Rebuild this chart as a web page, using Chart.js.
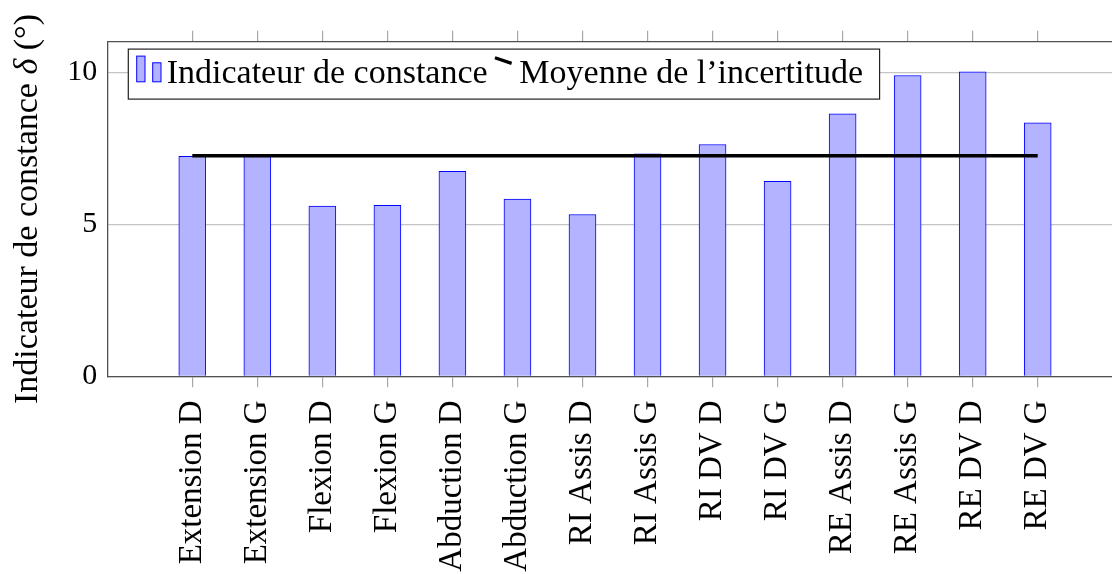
<!doctype html>
<html lang="fr">
<head>
<meta charset="utf-8">
<title>Indicateur de constance</title>
<script src="https://cdn.jsdelivr.net/npm/chart.js"></script>
<style>
  body { margin: 0; background: #fff; overflow: hidden; }
  #wrap { width: 1130px; height: 574px; }
</style>
</head>
<body>
<div id="wrap"><canvas id="constanceChart" width="1130" height="574"></canvas></div>
<script>
// data
const labels = ['Extension D', 'Extension G', 'Flexion D', 'Flexion G', 'Abduction D', 'Abduction G',
  'RI Assis D', 'RI Assis G', 'RI DV D', 'RI DV G', 'RE Assis D', 'RE Assis G', 'RE DV D', 'RE DV G'];
const constance = [7.23, 7.25, 5.60, 5.62, 6.74, 5.83, 5.32, 7.31, 7.62, 6.41, 8.63, 9.89, 10.01, 8.33];
const moyenne = [7.25, 7.25, 7.25, 7.25, 7.25, 7.25, 7.25, 7.25, 7.25, 7.25, 7.25, 7.25, 7.25, 7.25];
const yTicks = [0, 5, 10];

const serif = '"Liberation Serif", "DejaVu Serif", serif';
const barFill = 'rgb(179, 179, 255)';
const barEdge = 'rgb(0, 0, 255)';
const axisGray = '#505050';
const tickGray = '#a8a8a8';
const gridGray = '#c4c4c4';

// pgfplots-like y label, with an italic delta
const yTitle = {
  id: 'yTitle',
  afterDraw(chart) {
    const ctx = chart.ctx, a = chart.chartArea;
    const parts = [['Indicateur de constance ', ''], ['\u03b4', 'italic '], [' (\u00b0)', '']];
    ctx.save();
    ctx.translate(37, (a.top + a.bottom) / 2);
    ctx.rotate(-Math.PI / 2);
    ctx.fillStyle = '#000';
    ctx.textBaseline = 'alphabetic';
    let total = 0;
    parts.forEach(p => { ctx.font = p[1] + '34px ' + serif; total += ctx.measureText(p[0]).width; });
    let x = -total / 2;
    parts.forEach(p => {
      ctx.font = p[1] + '34px ' + serif;
      ctx.fillText(p[0], x, 0);
      x += ctx.measureText(p[0]).width;
    });
    ctx.restore();
  }
};

// framed legend inside the axis, top left
const boxLegend = {
  id: 'boxLegend',
  afterDraw(chart) {
    const ctx = chart.ctx, a = chart.chartArea;
    const barLabel = chart.data.datasets[1].label;
    const lineLabel = chart.data.datasets[0].label;
    const left = a.left + 21, top = a.top + 7.4, h = 50;
    ctx.save();
    ctx.font = '34px ' + serif;
    const w1 = ctx.measureText(barLabel).width;
    const w2 = ctx.measureText(lineLabel).width;
    const t1 = left + 38.4;
    const lx = t1 + w1 + 7.3;
    const t2 = lx + 24.4;
    const right = t2 + w2 + 16.6;

    ctx.fillStyle = '#fff';
    ctx.fillRect(left, top, right - left, h);
    ctx.strokeStyle = '#222';
    ctx.lineWidth = 1.2;
    ctx.strokeRect(left, top, right - left, h);

    ctx.fillStyle = barFill;
    ctx.strokeStyle = barEdge;
    ctx.lineWidth = 1;
    ctx.fillRect(left + 8.4, top + 7, 8.3, 25.7);
    ctx.strokeRect(left + 8.4, top + 7, 8.3, 25.7);
    ctx.fillRect(left + 24.4, top + 13.7, 8.3, 19);
    ctx.strokeRect(left + 24.4, top + 13.7, 8.3, 19);

    ctx.strokeStyle = '#000';
    ctx.lineWidth = 3.3;
    ctx.beginPath();
    ctx.moveTo(lx, top + 8.7);
    ctx.lineTo(lx + 16.7, top + 14.3);
    ctx.stroke();

    ctx.fillStyle = '#000';
    ctx.textBaseline = 'alphabetic';
    ctx.fillText(barLabel, t1, top + 34.3);
    ctx.fillText(lineLabel, t2, top + 34.3);
    ctx.restore();
  }
};

const catTicks = s => { s.ticks = labels.map((_, i) => ({ value: i })); };
const xMin = -1.307, xMax = labels.length - 1 + 1.307;

new Chart(document.getElementById('constanceChart'), {
  data: {
    datasets: [
      {
        type: 'line',
        label: 'Moyenne de l\u2019incertitude',
        data: labels.map((_, i) => ({ x: i, y: moyenne[i] })),
        borderColor: '#000',
        borderWidth: 3.3,
        pointRadius: 0,
        fill: false
      },
      {
        type: 'bar',
        label: 'Indicateur de constance',
        data: labels.map((_, i) => ({ x: i, y: constance[i] })),
        backgroundColor: barFill,
        borderColor: barEdge,
        borderWidth: 1,
        barThickness: 27
      }
    ]
  },
  options: {
    responsive: false,
    animation: false,
    layout: { padding: { left: 0, top: 0, right: 7.3, bottom: 0 } },
    plugins: { legend: { display: false }, tooltip: { enabled: false } },
    scales: {
      x: {
        type: 'linear',
        position: 'bottom',
        min: xMin,
        max: xMax,
        offset: false,
        afterBuildTicks: catTicks,
        afterFit: s => { s.height = 197.7; },
        grid: { offset: false, drawOnChartArea: false, tickLength: 11, color: tickGray, lineWidth: 1.2 },
        border: { color: axisGray, width: 1.3 },
        ticks: {
          autoSkip: false,
          maxRotation: 90,
          minRotation: 90,
          padding: 13,
          color: '#000',
          font: { family: serif, size: 33 },
          callback: v => labels[Math.round(v)]
        }
      },
      x2: {
        type: 'linear',
        position: 'top',
        min: xMin,
        max: xMax,
        offset: false,
        afterBuildTicks: catTicks,
        afterFit: s => { s.height = 41.7; },
        grid: { offset: false, drawOnChartArea: false, tickLength: 11, color: tickGray, lineWidth: 1.2 },
        border: { color: axisGray, width: 1.3 },
        ticks: { display: false }
      },
      y: {
        min: 0,
        max: 11,
        afterBuildTicks: s => { s.ticks = yTicks.map(v => ({ value: v })); },
        afterFit: s => { s.width = 107.3; },
        grid: { color: gridGray, drawTicks: false, lineWidth: 1.2 },
        border: { color: axisGray, width: 1.3 },
        ticks: { padding: 10, color: '#000', font: { family: serif, size: 30 } }
      }
    }
  },
  plugins: [yTitle, boxLegend]
});
</script>
</body>
</html>
